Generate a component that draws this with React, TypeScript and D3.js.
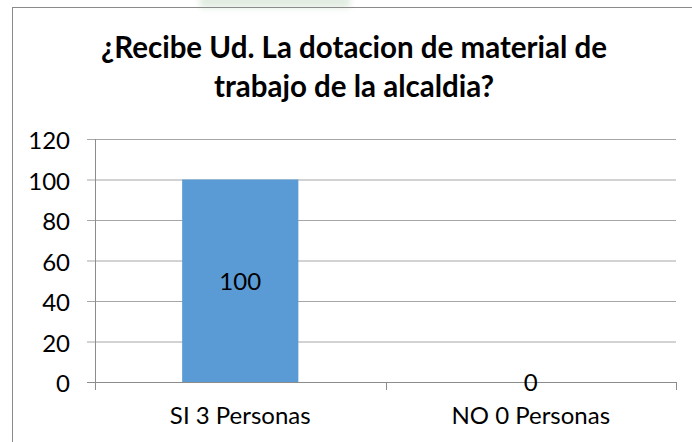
import React from "react";
import * as d3 from "d3";

const categories = ["SI 3 Personas", "NO 0 Personas"];
const values = [100, 0];
const yTicks = [0, 20, 40, 60, 80, 100, 120];
const titleLines = ["¿Recibe Ud. La dotacion de material de", "trabajo de la alcaldia?"];

const W = 692;
const H = 442;
const FONT = "Lato, 'Open Sans', sans-serif";

export default function App() {
  const x = d3.scaleBand<string>().domain(categories).range([95, 676]).paddingInner(0).paddingOuter(0);
  const y = d3.scaleLinear().domain([0, 120]).range([382, 139]);
  const bw = x.bandwidth();
  const barW = bw * 0.4;
  const gridColor = "#a6a6a6";
  const axisColor = "#8c8c8c";
  const boundaries = [...categories.map((c) => x(c) as number), x.range()[1]];

  return (
    <svg
      width={W}
      height={H}
      style={{ position: "absolute", left: 0, top: 0, background: "#fff" }}
      fontFamily={FONT}
    >
      <defs>
        <filter id="blur" x="-20%" y="-50%" width="140%" height="200%">
          <feGaussianBlur stdDeviation="3" />
        </filter>
      </defs>
      <rect x={0} y={0} width={W} height={H} fill="#fff" />
      {/* faint watermark at the top */}
      <rect x={200} y={-6} width={150} height={14} fill="#c9ddc9" opacity={0.55} filter="url(#blur)" />
      {/* chart border */}
      <rect x={12.5} y={7.5} width={W + 20} height={H + 20} fill="none" stroke="#8a8a8a" strokeWidth={1} />

      {/* title */}
      {titleLines.map((t, i) => (
        <text key={i} x={354} y={58 + i * 39} textAnchor="middle" fontSize={29.5} fontWeight="bold" fill="#000">
          {t}
        </text>
      ))}

      {/* gridlines + y ticks */}
      {yTicks.map((v) => (
        <g key={v}>
          <line x1={87} x2={676} y1={y(v) + 0.5} y2={y(v) + 0.5} stroke={v === 0 ? axisColor : gridColor} strokeWidth={1} />
          <text x={70} y={y(v) + 10} textAnchor="end" fontSize={24} fill="#000">
            {v}
          </text>
        </g>
      ))}

      {/* y axis line */}
      <line x1={95.5} x2={95.5} y1={y(120)} y2={390} stroke={axisColor} strokeWidth={1} />
      {/* category tick marks */}
      {boundaries.map((b, i) => (
        <line key={i} x1={Math.round(b) + 0.5} x2={Math.round(b) + 0.5} y1={382} y2={390} stroke={axisColor} strokeWidth={1} />
      ))}

      {/* bars */}
      {categories.map((c, i) => {
        const x0 = (x(c) as number) + (bw - barW) / 2;
        const yTop = y(values[i]);
        const yBase = y(0);
        return (
          <g key={c}>
            {values[i] > 0 && (
              <rect x={x0} y={yTop} width={barW} height={yBase - yTop} fill="#5b9bd5" />
            )}
            <text x={x0 + barW / 2} y={(yTop + yBase) / 2 + 9} textAnchor="middle" fontSize={24} fill="#000">
              {values[i]}
            </text>
            <text x={(x(c) as number) + bw / 2} y={424} textAnchor="middle" fontSize={24} fill="#000">
              {c}
            </text>
          </g>
        );
      })}
    </svg>
  );
}
